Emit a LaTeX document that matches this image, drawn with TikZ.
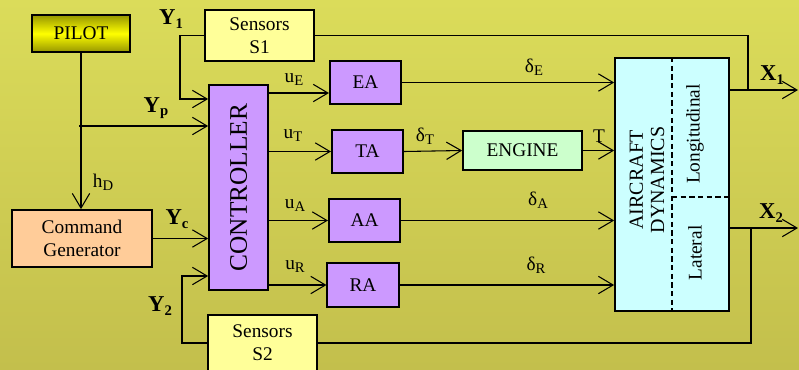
\documentclass[tikz,border=0pt]{standalone}
\usepackage{fontspec}
\setmainfont{Liberation Serif}
\usetikzlibrary{positioning, arrows.meta}

\definecolor{bgtop}{RGB}{219,220,90}
\definecolor{bgbot}{RGB}{195,191,76}
\definecolor{pilotdark}{RGB}{150,150,0}
\definecolor{actpurple}{RGB}{204,153,255}
\definecolor{sensyellow}{RGB}{255,255,153}
\definecolor{cmdorange}{RGB}{255,204,153}
\definecolor{enggreen}{RGB}{204,255,204}
\definecolor{dyncyan}{RGB}{204,255,255}

\newcommand{\sbs}[1]{\raisebox{-0.35ex}{\fontsize{11}{12}\selectfont #1}}

\tikzset{
  blk/.style={draw, line width=1.3pt, align=center, inner sep=0pt,
    font=\fontsize{14.5}{17}\selectfont},
  act/.style={blk, fill=actpurple, minimum width=53.5pt, minimum height=32.5pt},
  sens/.style={blk, fill=sensyellow, minimum width=81.75pt, minimum height=38.25pt},
  sig/.style={line width=0.8pt},
  lbl/.style={inner sep=0pt, font=\fontsize{14.5}{17}\selectfont},
  ylbl/.style={inner sep=0pt, font=\fontsize{17}{19}\selectfont\bfseries},
}

\begin{document}
\begin{tikzpicture}[x=0.75pt, y=-0.75pt, >={Straight Barb[length=11pt,width=13pt]}]
  \useasboundingbox (0,0) rectangle (799,369);
  \clip (0,0) rectangle (799,369);
  \shade[top color=bgtop, bottom color=bgbot] (0,0) rectangle (799,369);

  % blocks
  \node[blk, top color=pilotdark, bottom color=pilotdark, middle color=yellow,
    minimum width=73.5pt, minimum height=27.75pt] (pilot) at (81,33.5) {PILOT};
  \node[sens] (sone) at (259.5,35.5) {Sensors\\S1};
  \node[sens, minimum height=42pt] (stwo) at (262.5,343) {Sensors\\S2};
  \node[blk, fill=actpurple, minimum width=44.25pt, minimum height=153.75pt] (ctrl) at (238.5,187.5) {};
  \node[rotate=90, inner sep=0pt, font=\fontsize{19}{21}\selectfont] (ctrltxt) at (ctrl.center) {CONTROLLER};
  \node[blk, fill=cmdorange, minimum width=105pt, minimum height=42.75pt] (cmdgen) at (82,238.5) {Command\\Generator};
  \node[act] (ea) at (365.5,82.5) {EA};
  \node[act] (ta) at (367.5,151.5) {TA};
  \node[act] (aa) at (364.5,220.5) {AA};
  \node[act] (ra) at (363,285) {RA};
  \node[blk, fill=enggreen, minimum width=89.25pt, minimum height=29.25pt] (engine) at (522.5,150.5) {ENGINE};
  \node[blk, fill=dyncyan, minimum width=85.5pt, minimum height=189.75pt] (dyn) at (672,184.5) {};
  \draw[dash pattern=on 4pt off 2.5pt, line width=0.8pt] (dyn.north) -- (dyn.south);
  \draw[dash pattern=on 4pt off 2.5pt, line width=0.8pt] (672,197) -- (dyn.east |- 0,197);
  \node[rotate=90, lbl, align=center, font=\fontsize{15}{16}\selectfont] (dyntxt) at (647,180) {AIRCRAFT\\DYNAMICS};
  \node[rotate=90, lbl] (longi) at (695,134) {Longitudinal};
  \node[rotate=90, lbl] (later) at (695,253) {Lateral};

  % junctions and bends
  \coordinate (yone) at (180,99);
  \coordinate (yp) at (79,126);
  \coordinate (ytwo) at (182,276);
  \coordinate (ue) at (300,93);
  \coordinate (xone) at (798,90);
  \coordinate (xtwo) at (798,228);
  \coordinate (jone) at (748,90);
  \coordinate (jtwo) at (751,228);

  % controller inputs
  \draw[sig,->] (sone.west) -| (yone) -- (ctrl.west |- yone);
  \draw[sig,->] (pilot.south) -- (pilot.south |- cmdgen.north);
  \draw[sig,->] (yp) -- (ctrl.west |- yp);
  \draw[sig,->] (cmdgen.east) -- (ctrl.west |- cmdgen.east);
  \draw[sig,->] (stwo.west) -| (ytwo) -- (ctrl.west |- ytwo);

  % controller outputs
  \draw[sig,->] (ctrl.east |- ue) -- (ea.west |- ue);
  \draw[sig,->] (ctrl.east |- ta.west) -- (ta.west);
  \draw[sig,->] (ctrl.east |- aa.west) -- (aa.west);
  \draw[sig,->] (ctrl.east |- ra.west) -- (ra.west);

  % actuators to dynamics
  \draw[sig,->] (ea.east) -- (dyn.west |- ea.east);
  \draw[sig,->] (ta.east) -- (engine.west);
  \draw[sig,->] (engine.east) -- (dyn.west |- engine.east);
  \draw[sig,->] (aa.east) -- (dyn.west |- aa.east);
  \draw[sig,->] (ra.east) -- (dyn.west |- ra.east);

  % outputs and feedback
  \draw[sig,->] (dyn.east |- xone) -- (xone);
  \draw[sig,->] (dyn.east |- xtwo) -- (xtwo);
  \draw[sig] (sone.east) -| (jone);
  \draw[sig] (jtwo) |- (stwo.east);

  % labels
  \node[ylbl] (lyone) at (171,19) {Y\sbs{\bfseries 1}};
  \node[ylbl] (lyp) at (156,108) {Y\sbs{\bfseries p}};
  \node[ylbl] (lyc) at (177,219) {Y\sbs{\bfseries c}};
  \node[ylbl] (lytwo) at (160,306) {Y\sbs{\bfseries 2}};
  \node[lbl] (lhd) at (103,182) {h\sbs{D}};
  \node[lbl] (lue) at (294,80) {u\sbs{E}};
  \node[lbl] (lut) at (293,136) {u\sbs{T}};
  \node[lbl] (lua) at (295,206) {u\sbs{A}};
  \node[lbl] (lur) at (295,267) {u\sbs{R}};
  \node[lbl] (lde) at (534,67) {δ\sbs{E}};
  \node[lbl] (ldt) at (425,136) {δ\sbs{T}};
  \node[lbl] (lda) at (538,200) {δ\sbs{A}};
  \node[lbl] (ldr) at (536,265) {δ\sbs{R}};
  \node[lbl] (lt) at (599,136) {T};
  \node[ylbl] (lxone) at (772,75) {X\sbs{\bfseries 1}};
  \node[ylbl] (lxtwo) at (771,213) {X\sbs{\bfseries 2}};
\end{tikzpicture}
\end{document}
